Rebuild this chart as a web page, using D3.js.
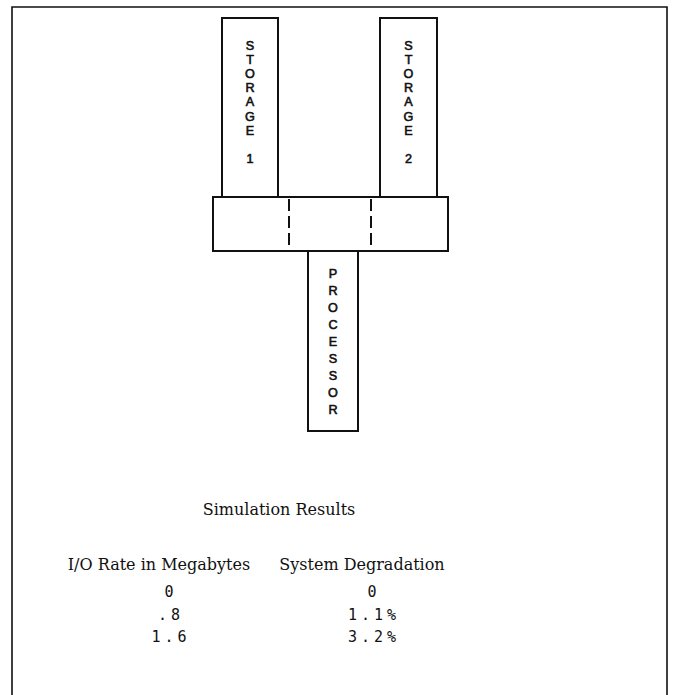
<!DOCTYPE html>
<html lang="en">

<head>
  <meta charset="UTF-8">
  <title>Storage / Processor Simulation</title>
  <script src="https://d3js.org/d3.v7.min.js"></script>
  <style>
    body {
      margin: 0;
      background: #fff;
    }
  </style>
</head>

<body>
  <div id="chart"></div>
  <script>
    // units in the diagram
    const unitNames = ["STORAGE 1", "STORAGE 2", "PROCESSOR"];

    // table content
    const tableTitle = "Simulation Results";
    const columnHeaders = ["I/O Rate in Megabytes", "System Degradation"];
    const ioRates = ["0", ".8", "1.6"];
    const degradation = ["0", "1.1%", "3.2%"];

    const width = 674;
    const height = 695;
    const ink = "#111";

    const svg = d3.select("#chart")
      .append("svg")
      .attr("width", width)
      .attr("height", height)
      .style("display", "block");

    // outer frame (no bottom edge, page continues)
    svg.append("path")
      .attr("d", `M12,${height} L12,7 L667,7 L667,${height}`)
      .attr("fill", "none")
      .attr("stroke", ink)
      .attr("stroke-width", 1.6);

    // boxes for the units
    const boxes = [
      { name: unitNames[0], x0: 222, x1: 278, y0: 18, y1: 197, step: 14.2, first: 45 },
      { name: unitNames[1], x0: 380, x1: 437, y0: 18, y1: 197, step: 14.2, first: 45 },
      { name: unitNames[2], x0: 308, x1: 358, y0: 251, y1: 431, step: 17.1, first: 273 }
    ];

    // bus across the bottom of the storages
    const bus = { x0: 213, x1: 448, y0: 197, y1: 251 };

    svg.selectAll(".unit")
      .data(boxes)
      .enter()
      .append("rect")
      .attr("class", "unit")
      .attr("x", d => d.x0)
      .attr("y", d => d.y0)
      .attr("width", d => d.x1 - d.x0)
      .attr("height", d => d.y1 - d.y0)
      .attr("fill", "#fff")
      .attr("stroke", ink)
      .attr("stroke-width", 2);

    svg.append("rect")
      .attr("x", bus.x0)
      .attr("y", bus.y0)
      .attr("width", bus.x1 - bus.x0)
      .attr("height", bus.y1 - bus.y0)
      .attr("fill", "#fff")
      .attr("stroke", ink)
      .attr("stroke-width", 2);

    // dashed dividers inside the bus
    svg.selectAll(".divider")
      .data([289, 371])
      .enter()
      .append("line")
      .attr("class", "divider")
      .attr("x1", d => d)
      .attr("x2", d => d)
      .attr("y1", bus.y0 + 2)
      .attr("y2", bus.y1)
      .attr("stroke", ink)
      .attr("stroke-width", 2)
      .attr("stroke-dasharray", "12,5");

    // vertical lettering, one text per letter; a space leaves a blank line
    boxes.forEach(b => {
      const letters = b.name.split("")
        .map((c, i) => ({ c, i }))
        .filter(d => d.c !== " ");
      const yScale = d3.scaleLinear()
        .domain([0, 1])
        .range([b.first, b.first + b.step]);
      svg.append("g")
        .selectAll("text")
        .data(letters)
        .enter()
        .append("text")
        .attr("x", (b.x0 + b.x1) / 2)
        .attr("y", d => yScale(d.i) + 4.6)
        .attr("text-anchor", "middle")
        .style("font-family", "'Liberation Sans', Arial, sans-serif")
        .style("font-size", "12.6px")
        .style("fill", ink)
        .style("stroke", ink)
        .style("stroke-width", 0.6)
        .text(d => d.c);
    });

    // simulation results table
    const serif = "'DejaVu Serif', 'Liberation Serif', serif";
    const mono = "'DejaVu Sans Mono', 'Liberation Mono', monospace";

    svg.append("text")
      .attr("x", 279)
      .attr("y", 515)
      .attr("text-anchor", "middle")
      .style("font-family", serif)
      .style("font-size", "16px")
      .style("fill", ink)
      .text(tableTitle);

    const colX = d3.scalePoint()
      .domain(columnHeaders)
      .range([159, 362]);

    svg.selectAll(".header")
      .data(columnHeaders)
      .enter()
      .append("text")
      .attr("class", "header")
      .attr("x", d => colX(d))
      .attr("y", 570)
      .attr("text-anchor", "middle")
      .style("font-family", serif)
      .style("font-size", "16px")
      .style("fill", ink)
      .text(d => d);

    const rowY = d3.scalePoint()
      .domain(d3.range(ioRates.length))
      .range([597, 642]);

    const cells = [];
    ioRates.forEach((v, i) => cells.push({ row: i, x: 171, text: v }));
    degradation.forEach((v, i) => cells.push({ row: i, x: 374, text: v }));

    svg.selectAll(".cell")
      .data(cells)
      .enter()
      .append("text")
      .attr("class", "cell")
      .attr("x", d => d.x)
      .attr("y", d => rowY(d.row))
      .attr("text-anchor", "middle")
      .style("font-family", mono)
      .style("font-size", "15px")
      .style("letter-spacing", "4px")
      .style("fill", ink)
      .text(d => d.text);
  </script>
</body>

</html>
